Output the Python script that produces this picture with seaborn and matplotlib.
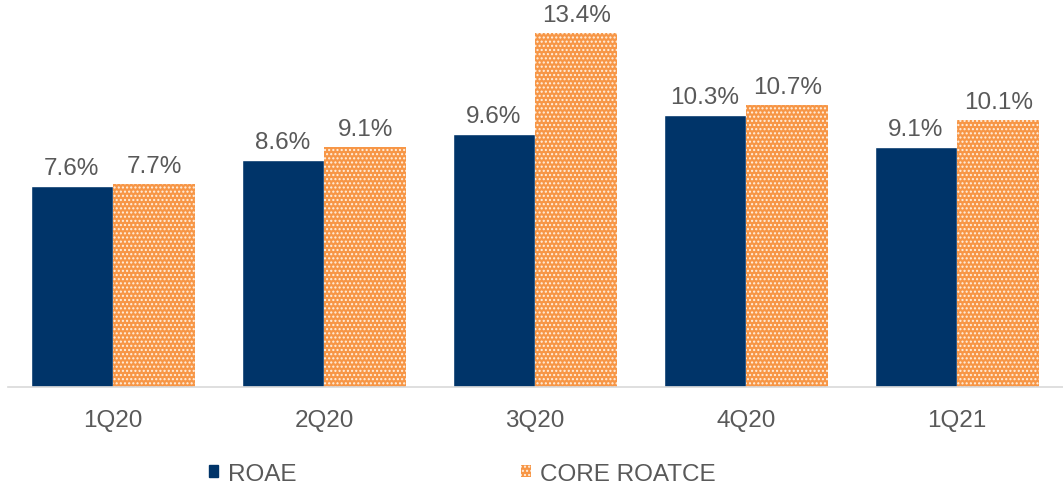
import matplotlib
matplotlib.use("Agg")
import matplotlib.pyplot as plt
import seaborn as sns
import pandas as pd
from matplotlib.patches import Patch

quarters = ["1Q20", "2Q20", "3Q20", "4Q20", "1Q21"]
roae = [7.6, 8.6, 9.6, 10.3, 9.1]
core_roatce = [7.7, 9.1, 13.4, 10.7, 10.1]
series_names = ["ROAE", "CORE ROATCE"]

df = pd.DataFrame({
    "quarter": quarters * 2,
    "value": roae + core_roatce,
    "series": [series_names[0]] * len(quarters) + [series_names[1]] * len(quarters),
})

sns.set_theme(style="white")
plt.rcParams["font.family"] = ["Liberation Sans", "DejaVu Sans"]
plt.rcParams["hatch.linewidth"] = 1.0

navy = "#003469"
orange = "#F79646"
gray = "#595959"
fs = 17.5

fig = plt.figure(figsize=(10.63, 4.89), dpi=100)
ax = fig.add_axes([7.5 / 1063, 101 / 489, 1055 / 1063, 388 / 489])

sns.barplot(data=df, x="quarter", y="value", hue="series", order=quarters,
            hue_order=series_names, palette=[navy, orange], width=0.78,
            saturation=1, ax=ax, legend=False)

for cont, name in zip(ax.containers, series_names):
    if name == "CORE ROATCE":
        for p in cont:
            p.set_hatch("....")
            p.set_edgecolor("#FFF0E0")
            p.set_linewidth(0)
    ax.bar_label(cont, fmt="%.1f%%", padding=5, fontsize=fs, color=gray)

ax.set_xlim(-0.5, len(quarters) - 0.5)
ax.set_ylim(0, 14.7)
ax.set_xlabel("")
ax.set_ylabel("")
ax.set_yticks([])
for s in ["top", "left", "right"]:
    ax.spines[s].set_visible(False)
ax.spines["bottom"].set_color("#D9D9D9")
ax.spines["bottom"].set_linewidth(1.2)
ax.tick_params(axis="x", length=0, pad=16, labelsize=fs, labelcolor=gray)

handles = [Patch(facecolor=navy, edgecolor=navy),
           Patch(facecolor=orange, edgecolor="#FFF0E0", hatch="....", linewidth=0)]
fig.legend(handles, series_names, loc="center", bbox_to_anchor=(0.435, 14 / 489),
           ncol=2, frameon=False, fontsize=fs, labelcolor=gray,
           handlelength=0.4, handleheight=0.4, handletextpad=0.4,
           columnspacing=9.23)

fig.savefig("out.png", dpi=100)
